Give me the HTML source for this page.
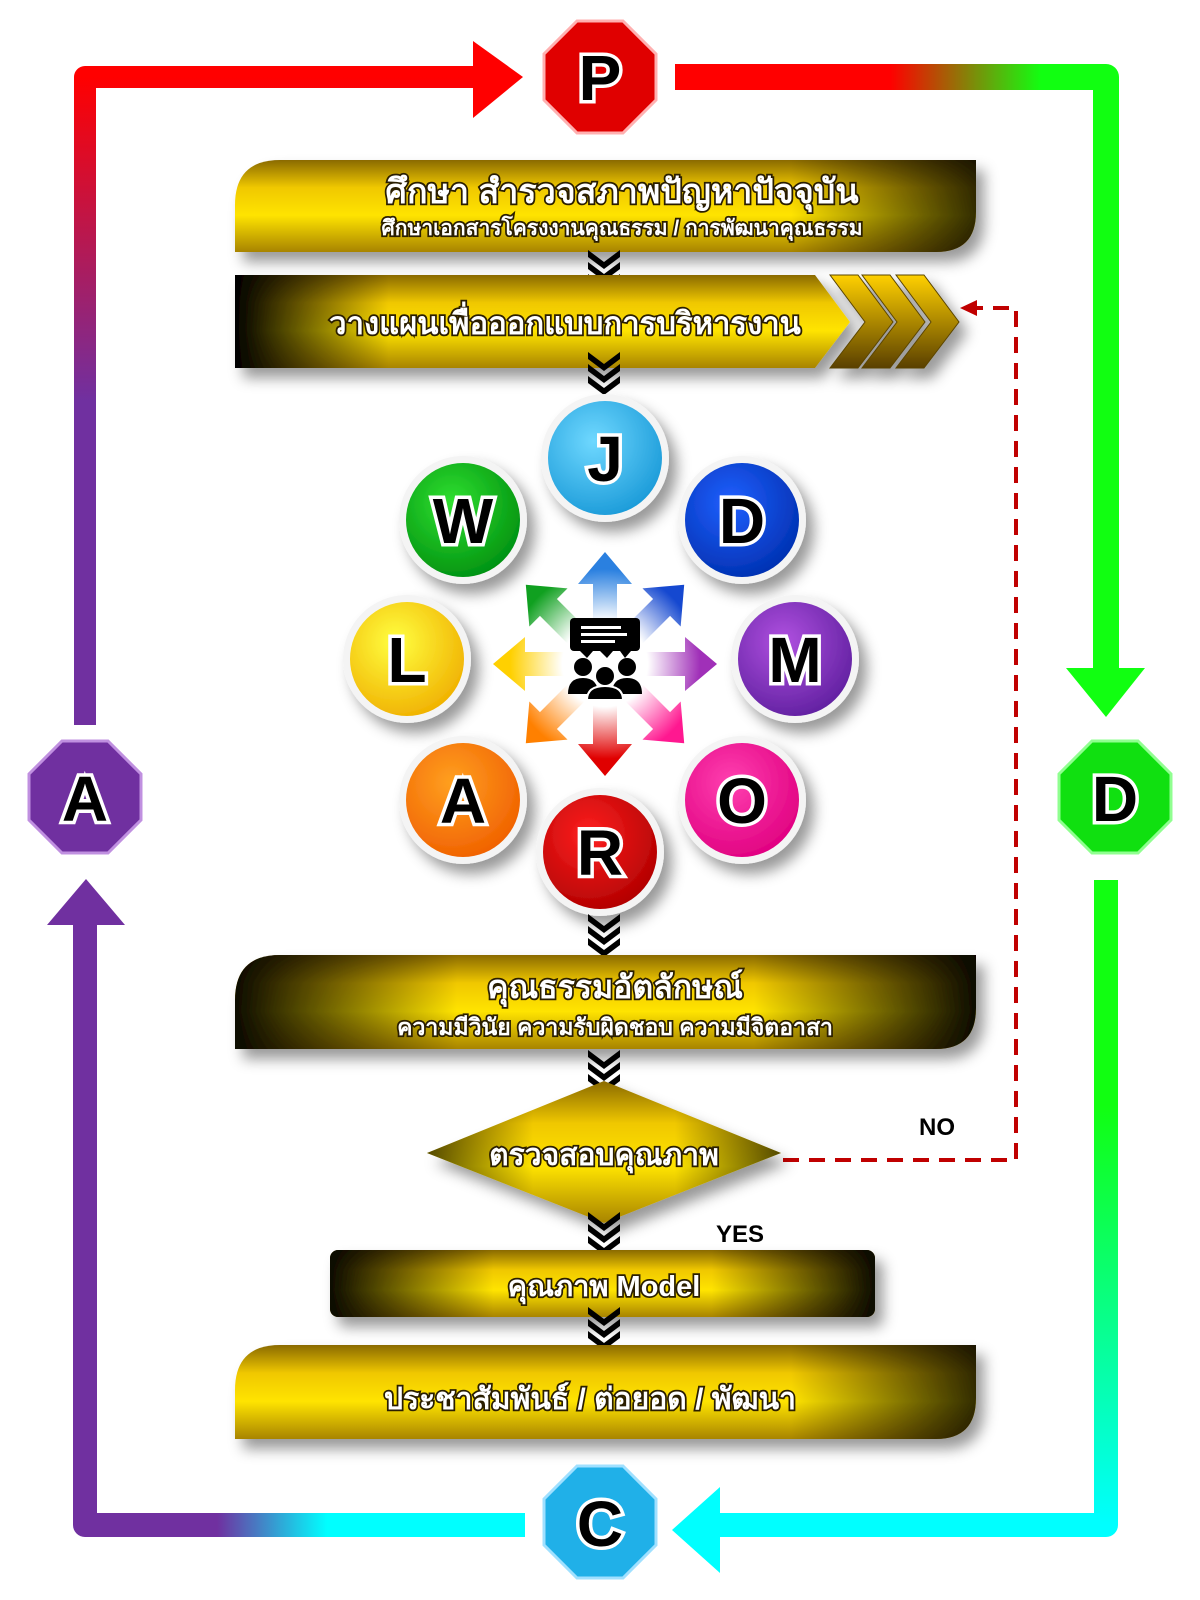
<!DOCTYPE html>
<html><head><meta charset="utf-8"><style>
html,body{margin:0;padding:0;background:#fff;width:1200px;height:1600px;overflow:hidden}
svg{display:block}
.th{font-family:"Liberation Sans","Noto Sans CJK SC","WenQuanYi Zen Hei",sans-serif;font-weight:bold;fill:#fff;stroke:#2a1e00;stroke-width:3.5;paint-order:stroke;text-anchor:middle}
.lt{font-family:"Liberation Sans",sans-serif;font-weight:bold;fill:#000;stroke:#fff;stroke-width:7;paint-order:stroke;text-anchor:middle}
</style></head><body>
<svg width="1200" height="1600" viewBox="0 0 1200 1600" xmlns="http://www.w3.org/2000/svg">
<defs>
<linearGradient id="gTop" x1="0" x2="1"><stop offset="0" stop-color="#f00"/><stop offset="0.5" stop-color="#f00"/><stop offset="0.85" stop-color="#1f1"/><stop offset="1" stop-color="#1f1"/></linearGradient>
<linearGradient id="gLeft" x1="0" y1="0" x2="0" y2="1"><stop offset="0" stop-color="#f00"/><stop offset="0.5" stop-color="#7030a0"/><stop offset="1" stop-color="#7030a0"/></linearGradient>
<linearGradient id="gRightB" x1="0" y1="0" x2="0" y2="1"><stop offset="0" stop-color="#1f1"/><stop offset="0.35" stop-color="#1f1"/><stop offset="1" stop-color="#0ff"/></linearGradient>
<linearGradient id="gBotL" x1="0" x2="1"><stop offset="0" stop-color="#7030a0"/><stop offset="0.3" stop-color="#7030a0"/><stop offset="0.55" stop-color="#0ff"/><stop offset="1" stop-color="#0ff"/></linearGradient>
<linearGradient id="gold" x1="0" y1="0" x2="0" y2="1"><stop offset="0" stop-color="#8a6a00"/><stop offset="0.3" stop-color="#f0c800"/><stop offset="0.6" stop-color="#ffe400"/><stop offset="1" stop-color="#a88400"/></linearGradient>
<linearGradient id="darkL" x1="0" x2="1"><stop offset="0" stop-color="#000" stop-opacity="1"/><stop offset="0.25" stop-color="#000" stop-opacity="0"/><stop offset="1" stop-color="#000" stop-opacity="0"/></linearGradient>
<linearGradient id="darkLR" x1="0" x2="1"><stop offset="0" stop-color="#000" stop-opacity="0.95"/><stop offset="0.3" stop-color="#000" stop-opacity="0"/><stop offset="0.7" stop-color="#000" stop-opacity="0"/><stop offset="1" stop-color="#000" stop-opacity="0.95"/></linearGradient>
<linearGradient id="darkR" x1="0" x2="1"><stop offset="0" stop-color="#000" stop-opacity="0"/><stop offset="0.75" stop-color="#000" stop-opacity="0"/><stop offset="1" stop-color="#000" stop-opacity="0.8"/></linearGradient>
<linearGradient id="chg" x1="0" y1="0" x2="0" y2="1"><stop offset="0" stop-color="#ffd000"/><stop offset="1" stop-color="#5a4000"/></linearGradient>
<filter id="sh" x="-20%" y="-20%" width="140%" height="160%"><feDropShadow dx="8" dy="10" stdDeviation="7" flood-color="#000" flood-opacity="0.4"/></filter>
<radialGradient id="cJ" cx="0.4" cy="0.35" r="0.7"><stop offset="0" stop-color="#6fd8ff"/><stop offset="1" stop-color="#1a9ad8"/></radialGradient>
<radialGradient id="cD" cx="0.4" cy="0.35" r="0.7"><stop offset="0" stop-color="#2060ff"/><stop offset="1" stop-color="#0030b0"/></radialGradient>
<radialGradient id="cW" cx="0.4" cy="0.35" r="0.7"><stop offset="0" stop-color="#30e030"/><stop offset="1" stop-color="#009010"/></radialGradient>
<radialGradient id="cL" cx="0.4" cy="0.35" r="0.7"><stop offset="0" stop-color="#ffff40"/><stop offset="1" stop-color="#f0b000"/></radialGradient>
<radialGradient id="cM" cx="0.4" cy="0.35" r="0.7"><stop offset="0" stop-color="#b050e0"/><stop offset="1" stop-color="#6020a0"/></radialGradient>
<radialGradient id="cA" cx="0.4" cy="0.35" r="0.7"><stop offset="0" stop-color="#ffa020"/><stop offset="1" stop-color="#f06000"/></radialGradient>
<radialGradient id="cO" cx="0.4" cy="0.35" r="0.7"><stop offset="0" stop-color="#ff40b0"/><stop offset="1" stop-color="#e00080"/></radialGradient>
<radialGradient id="cR" cx="0.4" cy="0.35" r="0.7"><stop offset="0" stop-color="#ff2020"/><stop offset="1" stop-color="#b00000"/></radialGradient>
<radialGradient id="cen" r="0.5"><stop offset="0.45" stop-color="#fff" stop-opacity="1"/><stop offset="1" stop-color="#fff" stop-opacity="0"/></radialGradient>
<g id="chev"><path d="M-16,-8 L0,4 L16,-8 L16,-1 L0,11 L-16,-1Z" fill="#000"/><path d="M-16,4 L0,16 L16,4 L16,11 L0,23 L-16,11Z" fill="#000"/><path d="M-16,16 L0,28 L16,16 L16,23 L0,35 L-16,23Z" fill="#000"/></g>
<path id="arr" d="M40,-12 L80,-12 L80,-27 L112,0 L80,27 L80,12 L40,12Z"/>
</defs>

<!-- frame -->
<path d="M500,77 L85,77 L85,725" fill="none" stroke="url(#gLeft)" stroke-width="22" stroke-linejoin="round"/>
<polygon points="473,41 523,77 473,118" fill="#f00"/>
<path d="M675,77 L1106,77 L1106,670" fill="none" stroke="url(#gTop)" stroke-width="26" stroke-linejoin="round"/>
<rect x="1093" y="90" width="26" height="590" fill="#1f1"/>
<polygon points="1066,668 1145,668 1106,717" fill="#1f1"/>
<path d="M1106,880 L1106,1525 L720,1525" fill="none" stroke="url(#gRightB)" stroke-width="24" stroke-linejoin="round"/>
<rect x="700" y="1513" width="400" height="24" fill="#0ff"/>
<polygon points="720,1487 720,1573 672,1530" fill="#0ff"/>
<path d="M525,1525 L85,1525 L85,925" fill="none" stroke="url(#gBotL)" stroke-width="24" stroke-linejoin="round"/>
<rect x="73" y="900" width="24" height="610" fill="#7030a0"/>
<polygon points="47,925 125,925 86,879" fill="#7030a0"/>

<!-- octagons -->
<g>
<polygon points="623,21 656,54 656,100 623,133 577,133 544,100 544,54 577,21" fill="#e00000" stroke="#ffb0b0" stroke-width="3"/>
<text x="600" y="100" class="lt" font-size="64">P</text>
<polygon points="1138,741 1171,774 1171,820 1138,853 1092,853 1059,820 1059,774 1092,741" fill="#10e010" stroke="#90ff90" stroke-width="3"/>
<text x="1115" y="821" class="lt" font-size="64">D</text>
<polygon points="108,741 141,774 141,820 108,853 62,853 29,820 29,774 62,741" fill="#7030a0" stroke="#c090e0" stroke-width="3"/>
<text x="85" y="821" class="lt" font-size="64">A</text>
<polygon points="623,1466 656,1499 656,1545 623,1578 577,1578 544,1545 544,1499 577,1466" fill="#20b0e8" stroke="#a0e0ff" stroke-width="3"/>
<text x="600" y="1546" class="lt" font-size="64">C</text>
</g>

<!-- box1 -->
<g filter="url(#sh)">
<path d="M280,160 L976,160 L976,212 Q976,252 936,252 L235,252 L235,205 Q235,160 280,160Z" fill="url(#gold)"/>
<path d="M280,160 L976,160 L976,212 Q976,252 936,252 L235,252 L235,205 Q235,160 280,160Z" fill="url(#darkR)"/>
</g>
<text x="622" y="203" class="th" font-size="34">ศึกษา สำรวจสภาพปัญหาปัจจุบัน</text>
<text x="622" y="235" class="th" font-size="21" stroke-width="2.5">ศึกษาเอกสารโครงงานคุณธรรม / การพัฒนาคุณธรรม</text>
<use href="#chev" x="604" y="258"/>

<!-- box2 -->
<g filter="url(#sh)">
<path d="M235,275 L815,275 L850,322 L815,368 L235,368Z" fill="url(#gold)"/>
<path d="M235,275 L815,275 L850,322 L815,368 L235,368Z" fill="url(#darkL)"/>
<path d="M830,275 L858,275 L893,322 L858,368 L830,368 L865,322Z" fill="url(#chg)" stroke="#5a4400"/>
<path d="M862,275 L890,275 L925,322 L890,368 L862,368 L897,322Z" fill="url(#chg)" stroke="#5a4400"/>
<path d="M896,275 L924,275 L959,322 L924,368 L896,368 L931,322Z" fill="url(#chg)" stroke="#5a4400"/>
</g>
<text x="565" y="334" class="th" font-size="31">วางแผนเพื่อออกแบบการบริหารงาน</text>
<use href="#chev" x="604" y="360"/>

<!-- dashed NO line -->
<path d="M783,1160 L1016,1160 L1016,308 L975,308" fill="none" stroke="#c00000" stroke-width="4" stroke-dasharray="16,10"/>
<polygon points="960,308 977,300 977,316" fill="#c00000"/>
<text x="937" y="1135" font-family="Liberation Sans,sans-serif" font-weight="bold" font-size="24" text-anchor="middle">NO</text>
<text x="740" y="1242" font-family="Liberation Sans,sans-serif" font-weight="bold" font-size="24" text-anchor="middle">YES</text>

<!-- radial arrows -->
<g transform="translate(605,664)">
<use href="#arr" transform="rotate(-90)" fill="#2a80e0"/>
<use href="#arr" transform="rotate(-45)" fill="#1548d0"/>
<use href="#arr" transform="rotate(0)" fill="#a030b8"/>
<use href="#arr" transform="rotate(45)" fill="#ff1890"/>
<use href="#arr" transform="rotate(90)" fill="#e00000"/>
<use href="#arr" transform="rotate(135)" fill="#ff8000"/>
<use href="#arr" transform="rotate(180)" fill="#ffd000"/>
<use href="#arr" transform="rotate(225)" fill="#10a020"/>
<circle r="95" fill="url(#cen)"/>
<rect x="-35" y="-46" width="70" height="33" rx="4" fill="#000"/>
<polygon points="-25,-13 -12,-13 -18,-6" fill="#000"/><polygon points="-5,-13 8,-13 2,-6" fill="#000"/><polygon points="15,-13 26,-13 20,-6" fill="#000"/>
<rect x="-24" y="-38" width="40" height="3" fill="#fff"/><rect x="-24" y="-31" width="46" height="3" fill="#fff"/><rect x="-24" y="-24" width="34" height="3" fill="#fff"/>
<circle cx="-22" cy="3" r="9" fill="#000"/><circle cx="22" cy="3" r="9" fill="#000"/>
<path d="M-37,30 Q-37,14 -22,14 Q-7,14 -7,30Z" fill="#000"/><path d="M7,30 Q7,14 22,14 Q37,14 37,30Z" fill="#000"/>
<circle cx="0" cy="12" r="10" fill="#000" stroke="#fff" stroke-width="2"/>
<path d="M-18,36 Q-18,22 0,22 Q18,22 18,36Z" fill="#000" stroke="#fff" stroke-width="2"/>
</g>

<!-- circles -->
<g filter="url(#sh)">
<circle cx="605" cy="458" r="64" fill="#f4f4f4"/><circle cx="605" cy="458" r="57" fill="url(#cJ)"/>
<circle cx="463" cy="520" r="64" fill="#f4f4f4"/><circle cx="463" cy="520" r="57" fill="url(#cW)"/>
<circle cx="742" cy="520" r="64" fill="#f4f4f4"/><circle cx="742" cy="520" r="57" fill="url(#cD)"/>
<circle cx="407" cy="659" r="64" fill="#f4f4f4"/><circle cx="407" cy="659" r="57" fill="url(#cL)"/>
<circle cx="795" cy="659" r="64" fill="#f4f4f4"/><circle cx="795" cy="659" r="57" fill="url(#cM)"/>
<circle cx="463" cy="800" r="64" fill="#f4f4f4"/><circle cx="463" cy="800" r="57" fill="url(#cA)"/>
<circle cx="742" cy="800" r="64" fill="#f4f4f4"/><circle cx="742" cy="800" r="57" fill="url(#cO)"/>
<circle cx="600" cy="852" r="64" fill="#f4f4f4"/><circle cx="600" cy="852" r="57" fill="url(#cR)"/>
</g>
<g font-size="64">
<text x="605" y="481" class="lt">J</text>
<text x="463" y="543" class="lt">W</text>
<text x="742" y="543" class="lt">D</text>
<text x="407" y="682" class="lt">L</text>
<text x="795" y="682" class="lt">M</text>
<text x="463" y="823" class="lt">A</text>
<text x="742" y="823" class="lt">O</text>
<text x="600" y="875" class="lt">R</text>
</g>
<use href="#chev" x="604" y="922"/>

<!-- box3 -->
<g filter="url(#sh)">
<path d="M280,955 L976,955 L976,1008 Q976,1049 936,1049 L235,1049 L235,1000 Q235,955 280,955Z" fill="url(#gold)"/>
<path d="M280,955 L976,955 L976,1008 Q976,1049 936,1049 L235,1049 L235,1000 Q235,955 280,955Z" fill="url(#darkLR)"/>
</g>
<text x="615" y="998" class="th" font-size="32">คุณธรรมอัตลักษณ์</text>
<text x="615" y="1035" class="th" font-size="23" stroke-width="2.5">ความมีวินัย ความรับผิดชอบ ความมีจิตอาสา</text>
<use href="#chev" x="604" y="1058"/>

<!-- diamond -->
<g filter="url(#sh)">
<polygon points="604,1081 781,1153 604,1223 427,1153" fill="url(#gold)"/>
<polygon points="604,1081 781,1153 604,1223 427,1153" fill="url(#darkLR)" opacity="0.7"/>
</g>
<text x="604" y="1165" class="th" font-size="30">ตรวจสอบคุณภาพ</text>
<use href="#chev" x="604" y="1220"/>

<!-- box4 -->
<g filter="url(#sh)">
<rect x="330" y="1250" width="545" height="67" rx="8" fill="url(#gold)"/>
<rect x="330" y="1250" width="545" height="67" rx="8" fill="url(#darkLR)"/>
</g>
<text x="604" y="1296" class="th" font-size="29">คุณภาพ Model</text>
<use href="#chev" x="604" y="1315"/>

<!-- box5 -->
<g filter="url(#sh)">
<path d="M280,1345 L976,1345 L976,1398 Q976,1439 936,1439 L235,1439 L235,1390 Q235,1345 280,1345Z" fill="url(#gold)"/>
<path d="M280,1345 L976,1345 L976,1398 Q976,1439 936,1439 L235,1439 L235,1390 Q235,1345 280,1345Z" fill="url(#darkR)"/>
</g>
<text x="590" y="1409" class="th" font-size="30">ประชาสัมพันธ์ / ต่อยอด / พัฒนา</text>
</svg>
</body></html>
